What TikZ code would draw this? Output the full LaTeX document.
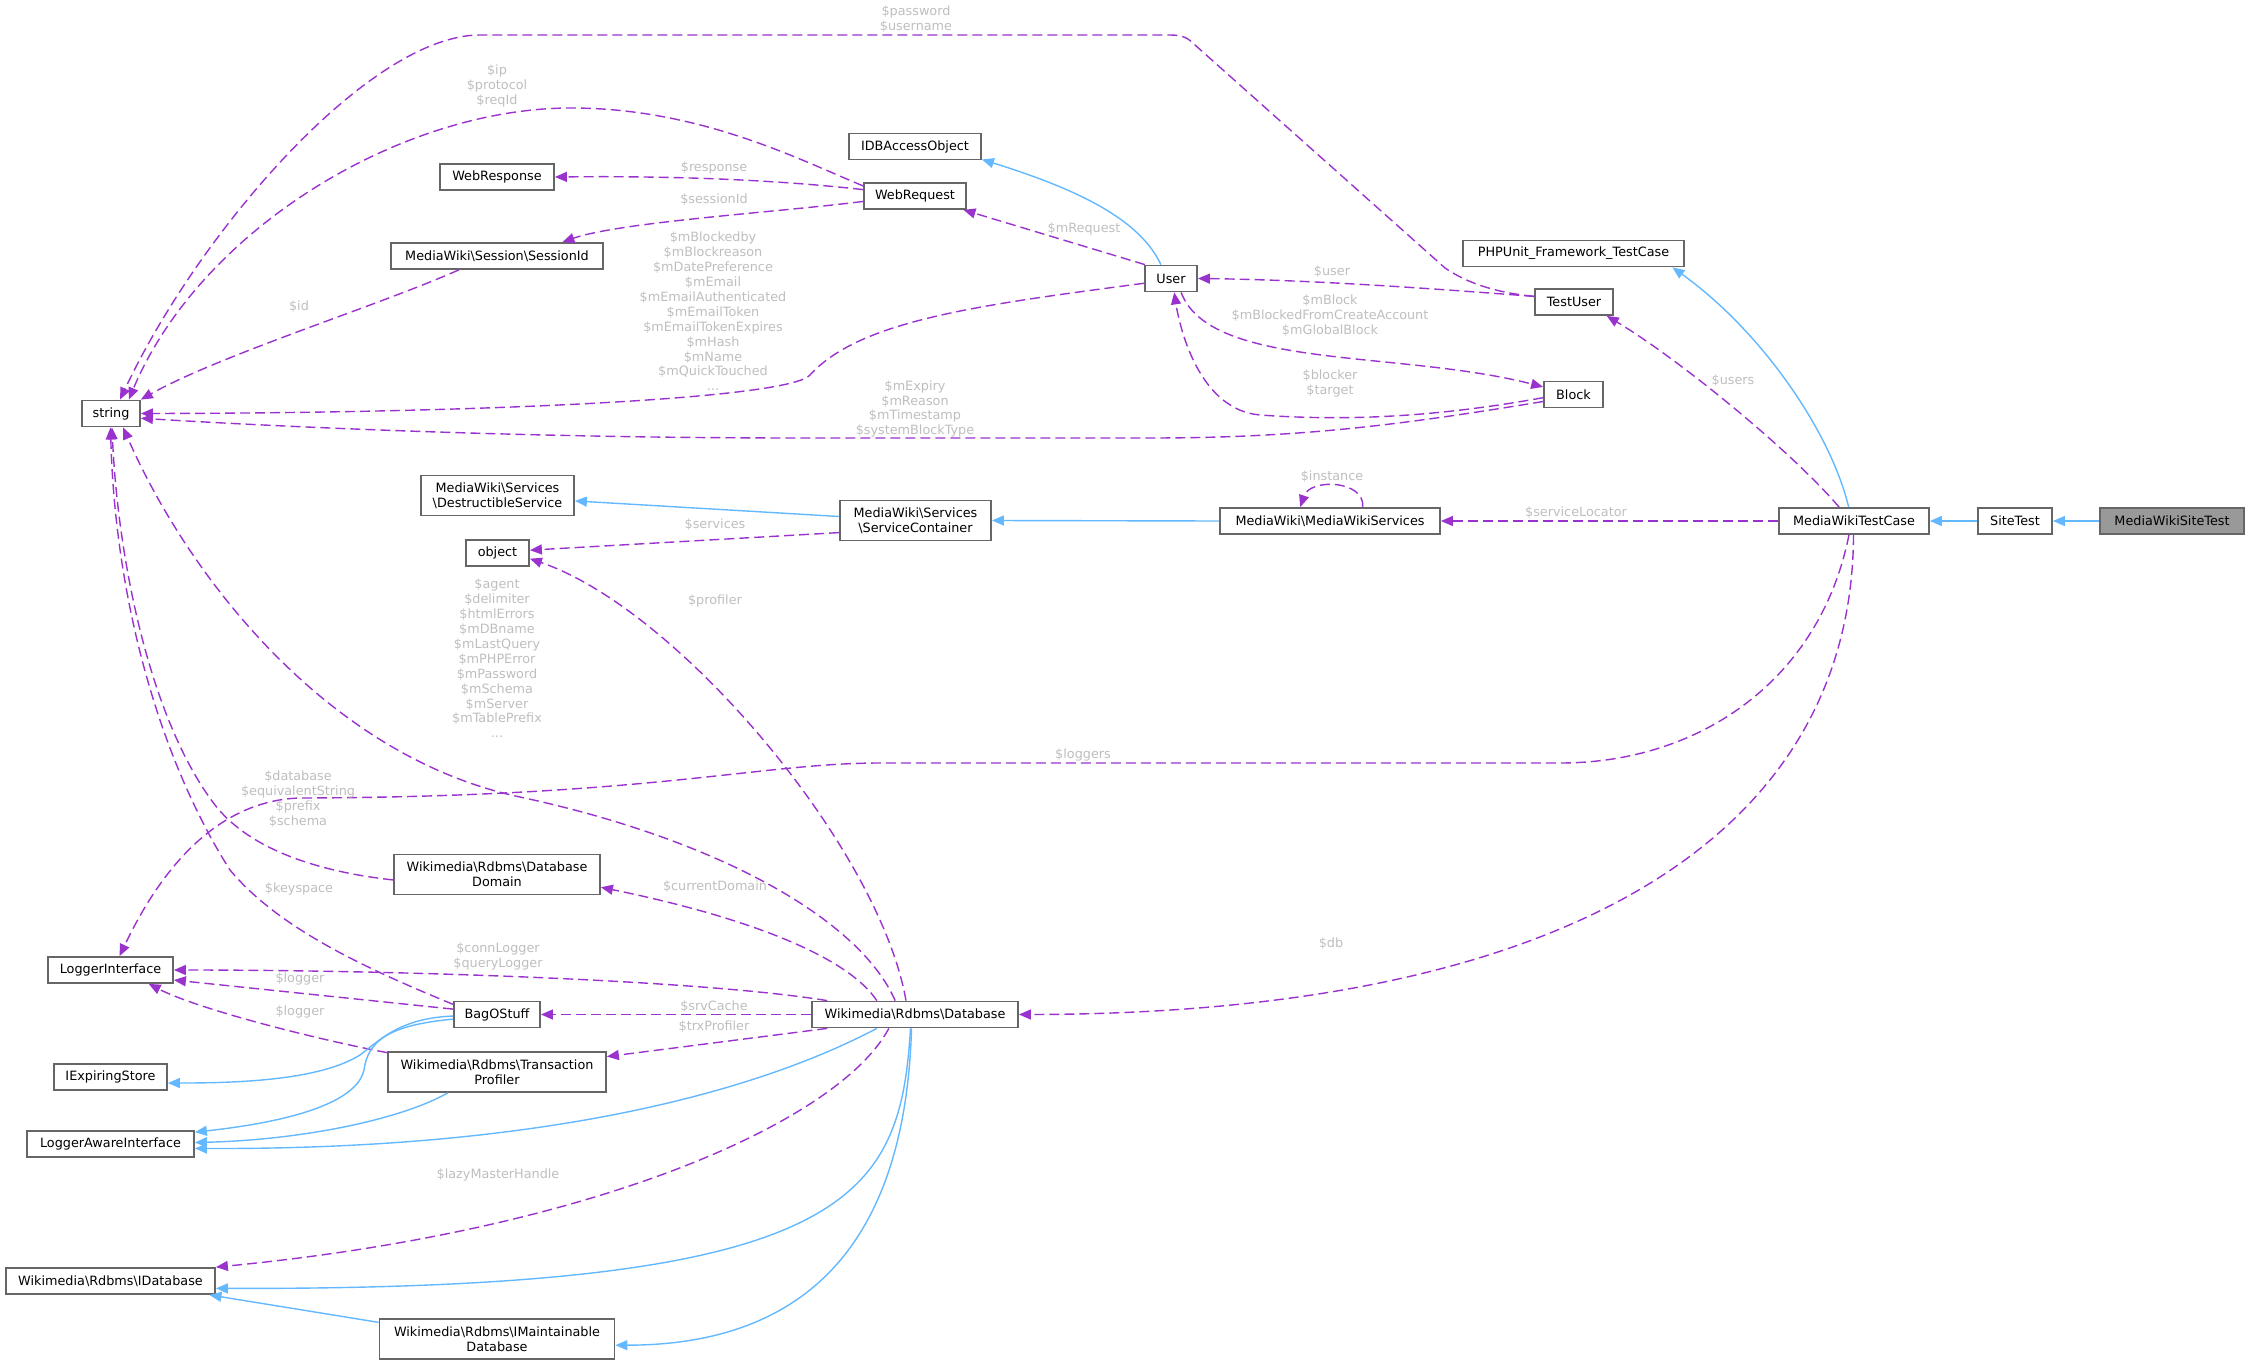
\documentclass[tikz,border=0pt]{standalone}
\usepackage{fontspec}
\setmainfont{DejaVu Sans}
\usetikzlibrary{arrows.meta}
\definecolor{boxgray}{HTML}{666666}
\definecolor{mainfill}{HTML}{999999}
\definecolor{lblgray}{HTML}{BEBEBE}
\definecolor{usepurple}{HTML}{9A32CD}
\definecolor{inhblue}{HTML}{63B8FF}
\newcommand{\dxfont}{\fontsize{6.4pt}{7.45pt}\selectfont}
\tikzset{
	cls/.style={draw=boxgray, line width=0.9pt, fill=white, inner sep=0pt, minimum height=13pt, align=center, font=\dxfont},
	cls2/.style={cls, minimum height=20pt},
	lbl/.style={text=lblgray, inner sep=0pt, align=center, font=\dxfont},
	use/.style={draw=usepurple, line width=0.7pt, dash pattern=on 5pt off 2.5pt, -{Triangle[length=6pt,width=5pt]}},
	inh/.style={draw=inhblue, line width=0.7pt, -{Triangle[length=6pt,width=5pt]}}
}
\begin{document}
\begin{tikzpicture}[x=0.5pt, y=-0.5pt]
	\useasboundingbox (0,0) rectangle (2249,1364);

	\node[cls, minimum width=29pt] (string) at (111,413.5) {string};
	\node[cls, minimum width=57pt] (webresponse) at (497,177) {WebResponse};
	\node[cls, minimum width=106pt] (sessionid) at (497,256) {MediaWiki\textbackslash Session\textbackslash SessionId};
	\node[cls, minimum width=66pt] (idbaccess) at (915,146.5) {IDBAccessObject};
	\node[cls, minimum width=51pt] (webrequest) at (915,196) {WebRequest};
	\node[cls, minimum width=26pt] (user) at (1171,278.5) {User};
	\node[cls, minimum width=39pt] (testuser) at (1574,302) {TestUser};
	\node[cls, minimum width=29.5pt] (block) at (1573.5,394.5) {Block};
	\node[cls, minimum width=110.5pt] (phpunit) at (1573.5,253.5) {PHPUnit\_Framework\_TestCase};
	\node[cls, minimum width=75pt] (mwtestcase) at (1854,521) {MediaWikiTestCase};
	\node[cls, minimum width=37pt] (sitetest) at (2015,521) {SiteTest};
	\node[cls, minimum width=72pt, fill=mainfill] (mwsitetest) at (2172,521) {MediaWikiSiteTest};
	\node[cls, minimum width=110pt] (mwservices) at (1330,521) {MediaWiki\textbackslash MediaWikiServices};
	\node[cls2, minimum width=75.5pt] (servicecontainer) at (915.5,520.5) {MediaWiki\textbackslash Services\\\textbackslash ServiceContainer};
	\node[cls2, minimum width=76.5pt] (destructible) at (497.5,495.5) {MediaWiki\textbackslash Services\\\textbackslash DestructibleService};
	\node[cls, minimum width=31.5pt] (object) at (497.5,553) {object};
	\node[cls2, minimum width=103pt] (dbdomain) at (497,874.5) {Wikimedia\textbackslash Rdbms\textbackslash Database\\Domain};
	\node[cls, minimum width=62.5pt] (loggeriface) at (110.5,970) {LoggerInterface};
	\node[cls, minimum width=43pt] (bagostuff) at (497,1014.5) {BagOStuff};
	\node[cls, minimum width=103pt] (database) at (915,1014.5) {Wikimedia\textbackslash Rdbms\textbackslash Database};
	\node[cls2, minimum width=109pt] (trxprofiler) at (497,1072) {Wikimedia\textbackslash Rdbms\textbackslash Transaction\\Profiler};
	\node[cls, minimum width=56.5pt] (expiring) at (110.5,1077) {IExpiringStore};
	\node[cls, minimum width=83.5pt] (loggeraware) at (110.5,1144) {LoggerAwareInterface};
	\node[cls, minimum width=104.5pt] (idatabase) at (110.5,1281) {Wikimedia\textbackslash Rdbms\textbackslash IDatabase};
	\node[cls2, minimum width=117.5pt] (imaintain) at (497,1339) {Wikimedia\textbackslash Rdbms\textbackslash IMaintainable\\Database};

	\draw[use] (testuser.172) .. controls (1500,293) and (1470,285) .. (1445,268) -- (1195,45) .. controls (1188,38) and (1183,35) .. (1170,35) -- (480,35) .. controls (370,35) and (200,230) .. (string.57);
	\draw[use] (webrequest.169) .. controls (800,160) and (700,108) .. (571,108) .. controls (400,108) and (200,230) .. (string.38);
	\draw[use] (webrequest.173) .. controls (760,178) and (650,176) .. (webresponse.east);
	\draw[use] (webrequest.186) .. controls (780,212) and (620,222) .. (sessionid.12);
	\draw[use] (sessionid.200) .. controls (380,305) and (220,355) .. (string.25);
	\draw[use] (user.190) .. controls (980,305) and (860,320) .. (810,375) .. controls (790,398) and (500,413) .. (string.east);
	\draw[use] (block.193) .. controls (1400,425) and (1300,438) .. (1150,438) -- (800,438) .. controls (500,438) and (250,425) .. (string.351);
	\draw[use] (user.152) -- (webrequest.344);
	\draw[inh] (user.126) .. controls (1140,220) and (1080,190) .. (idbaccess.349);
	\draw[use] (testuser.172) .. controls (1450,290) and (1320,280) .. (user.east);
	\draw[use] (user.306) .. controls (1210,370) and (1400,350) .. (block.166);
	\draw[use] (block.186) .. controls (1420,420) and (1330,420) .. (1260,415) .. controls (1200,410) and (1180,330) .. (user.283);
	\draw[inh] (mwtestcase.111) .. controls (1830,430) and (1760,330) .. (phpunit.352);
	\draw[use] (mwtestcase.137) .. controls (1790,450) and (1680,360) .. (testuser.337);
	\draw[use] (mwtestcase.west) -- (mwservices.east);
	\draw[inh] (sitetest.west) -- (mwtestcase.east);
	\draw[inh] (mwsitetest.west) -- (sitetest.east);
	\draw[inh] (mwservices.west) -- (servicecontainer.east);
	\draw[use] (mwservices.23) .. controls (1365,480) and (1310,478) .. (mwservices.155);
	\draw[inh] (servicecontainer.177) -- (destructible.356);
	\draw[use] (servicecontainer.189) -- (object.5);
	\draw[use] (database.123) .. controls (880,850) and (680,610) .. (object.350);
	\draw[use] (database.145) .. controls (860,920) and (720,840) .. (520,797) .. controls (330,757) and (190,580) .. (string.311);
	\draw[use] (mwtestcase.250) .. controls (1820,680) and (1700,763) .. (1560,763) -- (880,763) .. controls (760,763) and (650,797) .. (300,798) .. controls (230,800) and (170,850) .. (loggeriface.57);
	\draw[use] (mwtestcase.268) .. controls (1852,835) and (1570,1014) .. (database.east);
	\draw[use] (dbdomain.183) .. controls (320,872) and (250,850) .. (215,805) .. controls (150,720) and (118,560) .. (string.274);
	\draw[use] (database.160) .. controls (850,960) and (760,920) .. (dbdomain.353);
	\draw[use] (bagostuff.167) .. controls (370,970) and (280,930) .. (230,870) .. controls (160,760) and (115,600) .. (string.268);
	\draw[use] (database.171) .. controls (700,980) and (400,970) .. (loggeriface.east);
	\draw[use] (bagostuff.173) -- (loggeriface.351);
	\draw[use] (trxprofiler.170) .. controls (320,1040) and (200,1010) .. (loggeriface.340);
	\draw[use] (database.west) -- (bagostuff.east);
	\draw[use] (database.189) -- (trxprofiler.8);
	\draw[inh] (bagostuff.182) .. controls (400,1018) and (380,1040) .. (360,1055) .. controls (320,1080) and (240,1083) .. (expiring.354);
	\draw[inh] (bagostuff.186) .. controls (390,1025) and (368,1040) .. (364,1070) .. controls (355,1110) and (260,1125) .. (loggeraware.8);
	\draw[inh] (trxprofiler.203) .. controls (400,1120) and (300,1140) .. (loggeraware.1);
	\draw[inh] (database.200) .. controls (760,1090) and (550,1150) .. (loggeraware.357);
	\draw[inh] (database.252) .. controls (900,1200) and (850,1290) .. (idatabase.356);
	\draw[inh] (database.256) .. controls (905,1250) and (800,1345) .. (imaintain.357);
	\draw[inh] (imaintain.172) -- (idatabase.352);
	\draw[use] (database.208) .. controls (840,1120) and (600,1230) .. (idatabase.north east);

	\node[lbl] (lpassword) at (916,19.5) {\$password\\\$username};
	\node[lbl] (lip) at (497,86) {\$ip\\\$protocol\\\$reqId};
	\node[lbl] (lresponse) at (714,168) {\$response};
	\node[lbl] (lsessionid) at (714,200) {\$sessionId};
	\node[lbl] (lid) at (299,307) {\$id};
	\node[lbl] (luserstr) at (713,311.5) {\$mBlockedby\\\$mBlockreason\\\$mDatePreference\\\$mEmail\\\$mEmailAuthenticated\\\$mEmailToken\\\$mEmailTokenExpires\\\$mHash\\\$mName\\\$mQuickTouched\\...};
	\node[lbl] (lrequest) at (1084,229) {\$mRequest};
	\node[lbl] (luser) at (1332,272) {\$user};
	\node[lbl] (lmblock) at (1330,315.5) {\$mBlock\\\$mBlockedFromCreateAccount\\\$mGlobalBlock};
	\node[lbl] (lblocker) at (1330,383.5) {\$blocker\\\$target};
	\node[lbl] (lblockstr) at (915,409) {\$mExpiry\\\$mReason\\\$mTimestamp\\\$systemBlockType};
	\node[lbl] (lusers) at (1733,381) {\$users};
	\node[lbl] (lservicelocator) at (1576,513) {\$serviceLocator};
	\node[lbl] (linstance) at (1332,477) {\$instance};
	\node[lbl] (lservices) at (715,525) {\$services};
	\node[lbl] (lprofiler) at (715,601) {\$profiler};
	\node[lbl] (ldbstr) at (497,658.5) {\$agent\\\$delimiter\\\$htmlErrors\\\$mDBname\\\$mLastQuery\\\$mPHPError\\\$mPassword\\\$mSchema\\\$mServer\\\$mTablePrefix\\...};
	\node[lbl] (lloggers) at (1083,755) {\$loggers};
	\node[lbl] (ldb) at (1331,944) {\$db};
	\node[lbl] (ldomainstr) at (298,799) {\$database\\\$equivalentString\\\$prefix\\\$schema};
	\node[lbl] (lkeyspace) at (299,889) {\$keyspace};
	\node[lbl] (lcurrentdomain) at (715,887) {\$currentDomain};
	\node[lbl] (lconnlogger) at (498,956.5) {\$connLogger\\\$queryLogger};
	\node[lbl] (llogger) at (300,979) {\$logger};
	\node[lbl] (lloggertrx) at (300,1012) {\$logger};
	\node[lbl] (lsrvcache) at (714,1007) {\$srvCache};
	\node[lbl] (ltrxprofiler) at (714,1027) {\$trxProfiler};
	\node[lbl] (llazy) at (498,1175) {\$lazyMasterHandle};
\end{tikzpicture}
\end{document}
